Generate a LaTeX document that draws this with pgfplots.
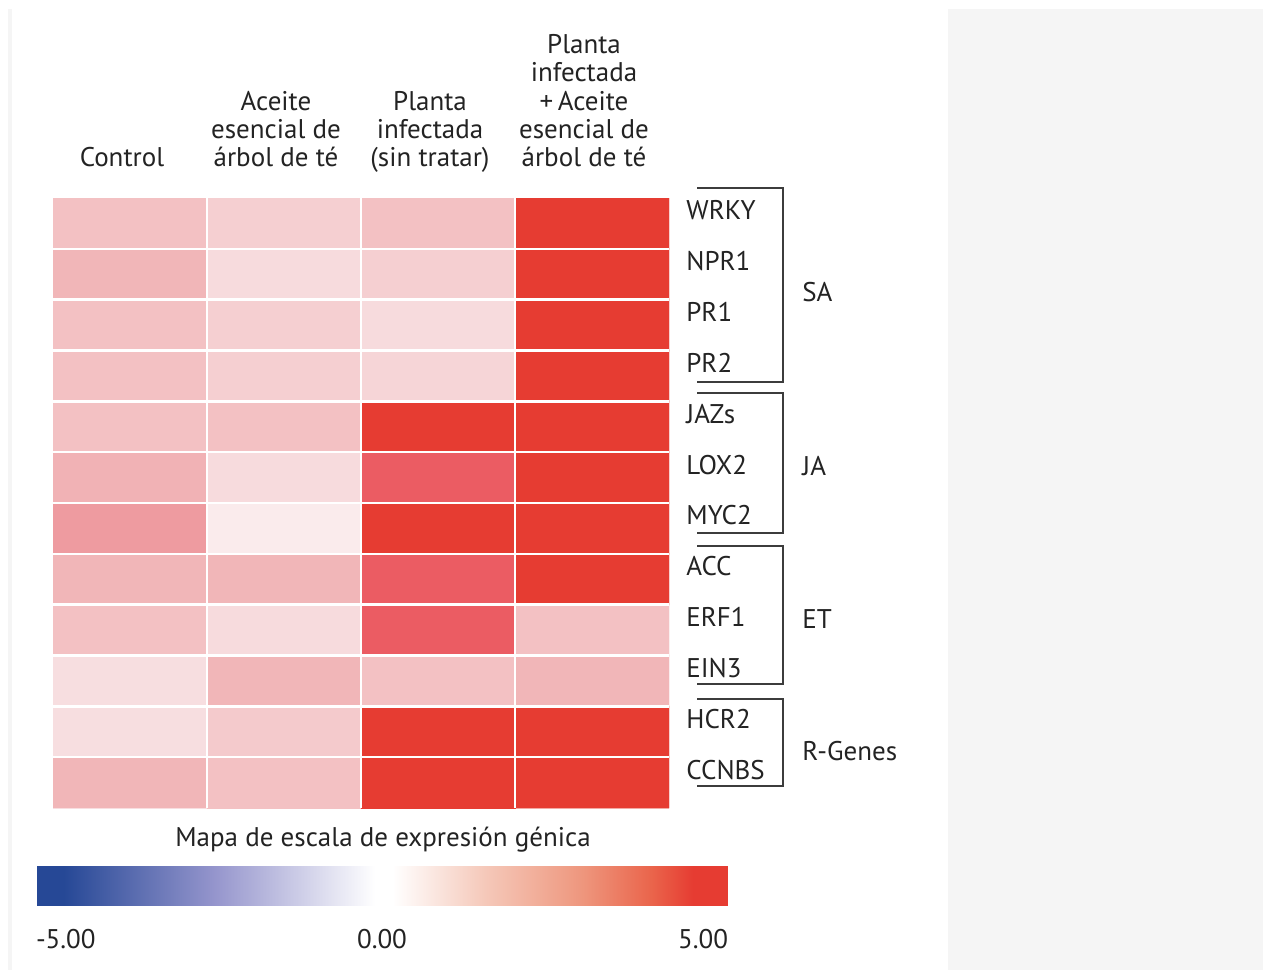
\documentclass[border=0pt]{standalone}
\usepackage{fontspec}
\setmainfont{PT Sans}
\usepackage{pgfplots}
\pgfplotsset{compat=1.18}
\usepackage{pgfplotstable}
\definecolor{txt}{RGB}{35,35,35}
\definecolor{panel}{RGB}{245,245,245}
\definecolor{brk}{RGB}{60,60,60}
\pgfplotsset{
  colormap={cells}{rgb255=(255,255,255) rgb255=(247,222,224) rgb255=(243,193,195) rgb255=(238,155,160) rgb255=(235,92,99) rgb255=(230,60,50)},
  colormap={bwr}{rgb255(0cm)=(38,72,150) rgb255(0.4cm)=(38,72,150) rgb255(2.6cm)=(150,150,205) rgb255(4.9cm)=(255,255,255) rgb255(5.15cm)=(255,255,255) rgb255(6.5cm)=(245,200,185) rgb255(7.9cm)=(238,150,125) rgb255(8.9cm)=(234,100,75) rgb255(9.5cm)=(230,60,50) rgb255(10cm)=(230,60,50)},
}
\pgfplotstableread{
x y c
0 0 2.0
1 0 1.5
2 0 2.0
3 0 5
0 1 2.3
1 1 1.1
2 1 1.5
3 1 5
0 2 2.0
1 2 1.5
2 2 1.1
3 2 5
0 3 2.0
1 3 1.5
2 3 1.3
3 3 5
0 4 2.0
1 4 2.0
2 4 5
3 4 5
0 5 2.4
1 5 1.1
2 5 4
3 5 5
0 6 3.0
1 6 0.6
2 6 5
3 6 5
0 7 2.3
1 7 2.3
2 7 4
3 7 5
0 8 2.0
1 8 1.1
2 8 4
3 8 2.0
0 9 1.0
1 9 2.3
2 9 2.0
3 9 2.3
0 10 1.0
1 10 1.7
2 10 5
3 10 5
0 11 2.3
1 11 2.0
2 11 5
3 11 5
}\heat
\newcommand{\lf}{\fontsize{13.5pt}{14.15pt}\selectfont}
\begin{document}
\begin{tikzpicture}
\begin{scope}[x=0.5pt,y=0.5pt]
\fill[white] (0,0) rectangle (1263,970);
\fill[panel] (8,0) rectangle (12,961);
\fill[panel] (948,0) rectangle (1263,961);
\end{scope}
\begin{axis}[
  at={(26.5pt,81pt)}, anchor=south west,
  scale only axis, width=308pt, height=305pt,
  xmin=-0.5, xmax=3.5, ymin=-0.5, ymax=11.5, y dir=reverse,
  axis line style={draw=none}, major tick length=0pt, tick style={draw=none},
  colormap name=cells, point meta min=0, point meta max=5,
  xtick={0,1,2,3},
  xticklabels={Control,{Aceite\\esencial de\\árbol de té},{Planta\\infectada\\(sin tratar)},{Planta\\infectada\\+\,Aceite\\esencial de\\árbol de té}},
  xticklabel pos=upper,
  xticklabel style={align=center, anchor=south, inner sep=0pt, text depth=0pt, yshift=15.5pt, xshift=-4pt, font=\lf, text=txt},
  ytick={0,...,11},
  yticklabels={WRKY,NPR1,PR1,PR2,JAZs,LOX2,MYC2,ACC,ERF1,EIN3,HCR2,CCNBS},
  yticklabel pos=upper,
  yticklabel style={anchor=base west, inner sep=0pt, xshift=8.5pt, yshift=1.75pt, font=\lf, text=txt},
  extra x ticks={0.5,1.5,2.5}, extra x tick labels={},
  extra y ticks={0.5,1.5,...,10.5}, extra y tick labels={},
  extra tick style={grid=major, major grid style={white, line width=1.3pt}},
  axis on top,
]
\addplot[matrix plot*, shader=flat corner, mesh/cols=4, point meta=explicit] table[x=x, y=y, meta=c] {\heat};
\end{axis}
\begin{axis}[
  at={(18pt,41pt)}, anchor=south west,
  scale only axis, width=346pt, height=19.5pt,
  hide axis, xmin=0, xmax=1, ymin=0, ymax=1,
  colormap name=bwr, point meta min=-5, point meta max=5,
  colorbar horizontal,
  colorbar/width=19.5pt,
  colorbar style={at={(parent axis.south west)}, anchor=south west,
    scale only axis, width=346pt, height=19.5pt,
    xtick={-5,0,5}, xticklabels={\rlap{-5.00},0.00,\llap{5.00}},
    xticklabel style={anchor=base, inner sep=0pt, yshift=-21.5pt, font=\lf, text=txt},
    axis line style={draw=none}, major tick length=0pt, tick style={draw=none}},
]
\addplot[draw=none] coordinates {(0,0)};
\end{axis}
\begin{scope}[x=0.5pt,y=0.5pt, font=\lf, text=txt]
\draw[brk, line width=1pt] (697,782) -- (783,782) -- (783,588) -- (697,588);
\draw[brk, line width=1pt] (697,577) -- (783,577) -- (783,437) -- (697,437);
\draw[brk, line width=1pt] (697,424) -- (783,424) -- (783,286) -- (697,286);
\draw[brk, line width=1pt] (697,271) -- (783,271) -- (783,184) -- (697,184);
\node[anchor=base west, inner sep=0pt] at (802,668) {SA};
\node[anchor=base west, inner sep=0pt] at (802,494) {JA};
\node[anchor=base west, inner sep=0pt] at (802,342) {ET};
\node[anchor=base west, inner sep=0pt] at (802,210) {R-Genes};
\node[anchor=base, inner sep=0pt] at (383,124) {Mapa de escala de expresión génica};
\end{scope}
\pgfresetboundingbox
\path[use as bounding box] (0,0) rectangle (631.5pt,485pt);
\end{tikzpicture}
\end{document}
